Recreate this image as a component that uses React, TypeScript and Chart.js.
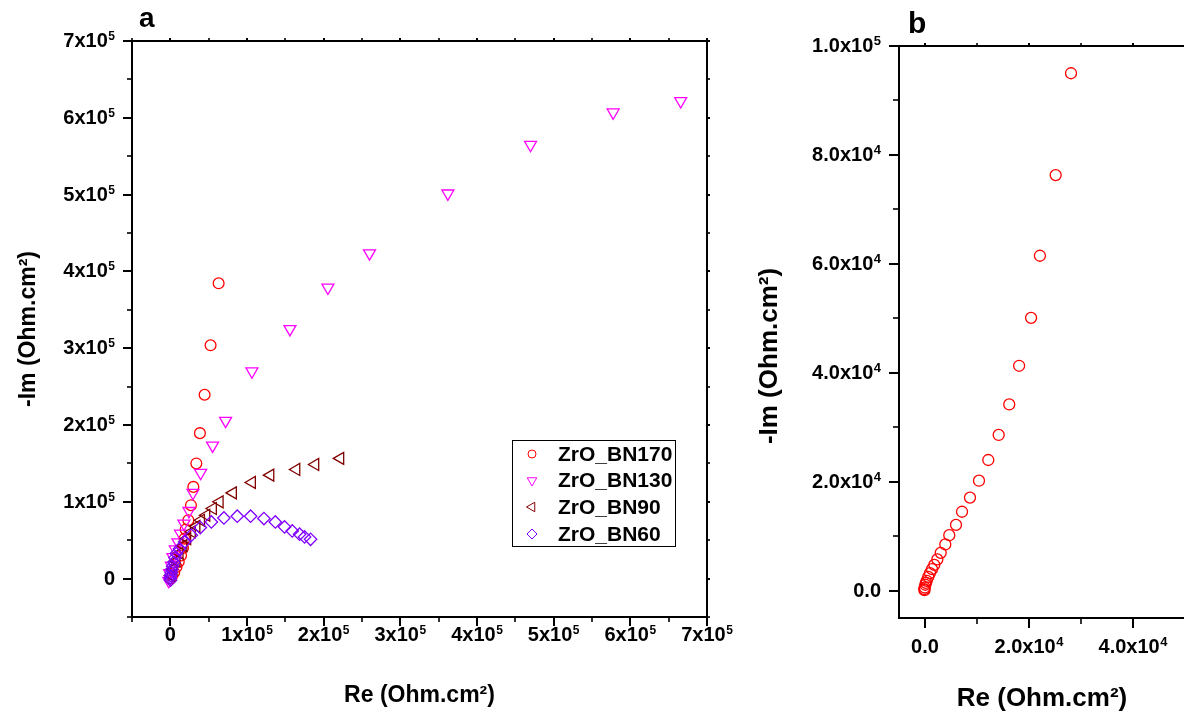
import React, { useEffect, useRef } from 'react';
import { Chart, registerables } from 'chart.js';
import { drawPoint } from 'chart.js/helpers';

Chart.register(...registerables);

const FONT = '"Liberation Sans", Arial, Helvetica, sans-serif';

// ---------- Panel a data (Ohm.cm²) ----------
const LABELS = ['ZrO_BN170', 'ZrO_BN130', 'ZrO_BN90', 'ZrO_BN60'];
const COLORS = ['#ff0000', '#ff00ff', '#800000', '#8000ff'];

const BN170_RE = [0, 2000, 5000, 8000, 11000, 14000, 16500, 18600, 20000, 23500, 26900, 30000, 33900, 38600, 44700, 52500, 63000];
const BN170_IM = [0, 3000, 8000, 15000, 22000, 30000, 40000, 52000, 64000, 76000, 95600, 119400, 149900, 189400, 239400, 303800, 384500];

const BN130_RE = [-2000, -1000, 1300, 3400, 6500, 9900, 13400, 17700, 24300, 29500, 39500, 55100, 72100, 106400, 156000, 205500, 259800, 362000, 469800, 577600, 665700];
const BN130_IM = [-3000, 7000, 17000, 28000, 38000, 47300, 58500, 71600, 88100, 111600, 137700, 173300, 205500, 269800, 325000, 378900, 423600, 501500, 564800, 607000, 621800];

const BN90_RE = [1000, 4000, 8000, 12000, 17000, 22000, 28000, 34000, 40000, 46900, 55500, 64300, 81600, 106400, 130400, 164300, 189000, 221600];
const BN90_IM = [4000, 13000, 23000, 33000, 43000, 52000, 61000, 68000, 76000, 82500, 91300, 100000, 111600, 125200, 134700, 142100, 148600, 156500];

const BN60_RE = [300, 0, 400, 1000, 1800, 3000, 4500, 6000, 7800, 12000, 18600, 27400, 39100, 53500, 69900, 87300, 104700, 122100, 136900, 149000, 159000, 168600, 175100, 182900];
const BN60_IM = [-2000, 1000, 4000, 7500, 11500, 16000, 21000, 27000, 32600, 39000, 47700, 56500, 66500, 73800, 79000, 81200, 81200, 78200, 73800, 67300, 62100, 57800, 54300, 51200];

// ---------- Panel b data (Ohm.cm²) ----------
const B_RE = [-130, -100, -50, 60, 180, 330, 630, 960, 1350, 1790, 2370, 3020, 3900, 4670, 5960, 7120, 8650, 10380, 12170, 14170, 16200, 18100, 20400, 22100, 25130, 28080];
const B_IM = [310, 100, 600, 1100, 1450, 1830, 2560, 3240, 3970, 4760, 5750, 6960, 8500, 10200, 12100, 14500, 17100, 20200, 24000, 28600, 34200, 41300, 50100, 61500, 76300, 95000];

// ---------- Ticks (labels: text before "^" is normal, after it is a superscript) ----------
const A_TICKS = [0, 100000, 200000, 300000, 400000, 500000, 600000, 700000];
const A_TICK_LABELS = ['0', '1x10^5', '2x10^5', '3x10^5', '4x10^5', '5x10^5', '6x10^5', '7x10^5'];
const A_MINOR = [-50000, 50000, 150000, 250000, 350000, 450000, 550000, 650000];

const B_X_TICKS = [0, 20000, 40000];
const B_X_LABELS = ['0.0', '2.0x10^4', '4.0x10^4'];
const B_X_MINOR = [10000, 30000, 50000];
const B_Y_TICKS = [0, 20000, 40000, 60000, 80000, 100000];
const B_Y_LABELS = ['0.0', '2.0x10^4', '4.0x10^4', '6.0x10^4', '8.0x10^4', '1.0x10^5'];
const B_Y_MINOR = [10000, 30000, 50000, 70000, 90000];

const X_TITLE = 'Re (Ohm.cm²)';
const Y_TITLE = '-Im (Ohm.cm²)';

function pts(re: number[], im: number[]) {
  return re.map((v, i) => ({ x: v, y: im[i] }));
}

function ds(label: string, re: number[], im: number[], color: string, style: string, rotation: number, radius: number, order: number) {
  return {
    label,
    data: pts(re, im),
    showLine: false,
    pointStyle: style,
    pointRotation: rotation,
    pointRadius: radius,
    pointHoverRadius: radius,
    pointBorderWidth: 1.3,
    borderColor: color,
    pointBorderColor: color,
    backgroundColor: 'rgba(0,0,0,0)',
    pointBackgroundColor: 'rgba(0,0,0,0)',
    order,
  };
}

type LabelCfg = {
  size: number; supSize: number; supRise: number;
  xBaseline: number; yRight: number; yShift: number;
};

type PanelCfg = {
  id: string;
  xMajor: number[]; xLabels: string[]; xMinor: number[];
  yMajor: number[]; yLabels: string[]; yMinor: number[];
  majorLen: number; minorLen: number;
  lab: LabelCfg;
  letter: string; letterX: number; letterY: number; letterSize: number;
  legend?: boolean;
  yTitle?: { text: string; x: number; y: number; size: number };
};

function drawSupLabel(ctx: CanvasRenderingContext2D, text: string, anchorX: number, baseline: number, align: 'center' | 'right', lab: LabelCfg) {
  const [main, sup] = text.split('^');
  const mainFont = `bold ${lab.size}px ${FONT}`;
  const supFont = `bold ${lab.supSize}px ${FONT}`;
  ctx.font = mainFont;
  const w1 = ctx.measureText(main).width;
  let w2 = 0;
  if (sup) {
    ctx.font = supFont;
    w2 = ctx.measureText(sup).width + 0.5;
  }
  const total = w1 + w2;
  const start = align === 'center' ? anchorX - total / 2 : anchorX - total;
  ctx.textAlign = 'left';
  ctx.textBaseline = 'alphabetic';
  ctx.font = mainFont;
  ctx.fillText(main, start, baseline);
  if (sup) {
    ctx.font = supFont;
    ctx.fillText(sup, start + w1 + 0.5, baseline - lab.supRise);
  }
}

function makePanelPlugin(cfg: PanelCfg) {
  return {
    id: cfg.id,
    afterDatasetsDraw(chart: any) {
      const { ctx, chartArea: ca } = chart;
      const sx = chart.scales.x;
      const sy = chart.scales.y;
      ctx.save();
      ctx.strokeStyle = '#000';
      ctx.lineWidth = 2;
      ctx.strokeRect(ca.left, ca.top, ca.right - ca.left, ca.bottom - ca.top);
      const line = (x1: number, y1: number, x2: number, y2: number) => {
        ctx.beginPath();
        ctx.moveTo(x1, y1);
        ctx.lineTo(x2, y2);
        ctx.stroke();
      };
      const xt = (vals: number[], len: number) => vals.forEach((v) => {
        const p = Math.round(sx.getPixelForValue(v));
        line(p, ca.bottom, p, ca.bottom + len);
        line(p, ca.top, p, ca.top - 3);
      });
      const yt = (vals: number[], len: number) => vals.forEach((v) => {
        const p = Math.round(sy.getPixelForValue(v));
        line(ca.left, p, ca.left - len, p);
        line(ca.right, p, ca.right + 3, p);
      });
      ctx.lineWidth = 2;
      xt(cfg.xMajor, cfg.majorLen);
      yt(cfg.yMajor, cfg.majorLen);
      ctx.lineWidth = 1.6;
      xt(cfg.xMinor, cfg.minorLen);
      yt(cfg.yMinor, cfg.minorLen);

      // tick labels, positioned by the chart's own scales
      ctx.fillStyle = '#000';
      cfg.xMajor.forEach((v, i) => {
        drawSupLabel(ctx, cfg.xLabels[i], sx.getPixelForValue(v), cfg.lab.xBaseline, 'center', cfg.lab);
      });
      cfg.yMajor.forEach((v, i) => {
        drawSupLabel(ctx, cfg.yLabels[i], cfg.lab.yRight, sy.getPixelForValue(v) + cfg.lab.yShift, 'right', cfg.lab);
      });

      ctx.font = `bold ${cfg.letterSize}px ${FONT}`;
      ctx.textAlign = 'left';
      ctx.textBaseline = 'alphabetic';
      ctx.fillText(cfg.letter, cfg.letterX, cfg.letterY);

      if (cfg.yTitle) {
        ctx.save();
        ctx.translate(cfg.yTitle.x, cfg.yTitle.y);
        ctx.rotate(-Math.PI / 2);
        ctx.font = `bold ${cfg.yTitle.size}px ${FONT}`;
        ctx.textAlign = 'center';
        ctx.textBaseline = 'middle';
        ctx.fillText(cfg.yTitle.text, 0, 0);
        ctx.restore();
      }

      if (cfg.legend) {
        ctx.lineWidth = 1;
        ctx.strokeStyle = '#000';
        ctx.strokeRect(512.5, 440.5, 163, 106);
        const rows = [454, 480.5, 507, 534];
        const radii = [4, 5.5, 5.5, 5];
        chart.data.datasets.forEach((d: any, i: number) => {
          ctx.strokeStyle = d.pointBorderColor;
          ctx.fillStyle = 'rgba(0,0,0,0)';
          drawPoint(ctx, { pointStyle: d.pointStyle, rotation: d.pointRotation, radius: radii[i], borderWidth: 1.2 } as any, 532, rows[i]);
          ctx.fillStyle = '#000';
          ctx.font = `bold 21px ${FONT}`;
          ctx.textAlign = 'left';
          ctx.textBaseline = 'middle';
          ctx.fillText(d.label, 558, rows[i] + 1);
        });
      }
      ctx.restore();
    },
  };
}

const hiddenTicks = { display: false };

function configA(): any {
  return {
    type: 'scatter',
    data: {
      datasets: [
        ds(LABELS[0], BN170_RE, BN170_IM, COLORS[0], 'circle', 0, 5.4, 4),
        ds(LABELS[1], BN130_RE, BN130_IM, COLORS[1], 'triangle', 180, 6.9, 3),
        ds(LABELS[2], BN90_RE, BN90_IM, COLORS[2], 'triangle', -90, 6.9, 2),
        ds(LABELS[3], BN60_RE, BN60_IM, COLORS[3], 'rectRot', 0, 6.2, 1),
      ],
    },
    options: {
      animation: false,
      responsive: false,
      devicePixelRatio: 1,
      layout: { padding: { left: 0, top: 41, right: 53, bottom: 0 } },
      plugins: { legend: { display: false }, tooltip: { enabled: false }, title: { display: false } },
      scales: {
        x: {
          type: 'linear', min: -50000, max: 700000,
          afterBuildTicks: (s: any) => { s.ticks = A_TICKS.map((v) => ({ value: v })); },
          afterFit: (s: any) => { s.height = 100; },
          grid: { display: false, drawTicks: false },
          border: { display: false },
          ticks: hiddenTicks,
          title: { display: true, text: X_TITLE, color: '#000', font: { family: FONT, size: 23, weight: 'bold' }, padding: { top: 0, bottom: 8 } },
        },
        y: {
          type: 'linear', min: -50000, max: 700000,
          afterBuildTicks: (s: any) => { s.ticks = A_TICKS.map((v) => ({ value: v })); },
          afterFit: (s: any) => { s.width = 132; },
          grid: { display: false, drawTicks: false },
          border: { display: false },
          ticks: hiddenTicks,
          title: { display: true, text: Y_TITLE, color: '#000', font: { family: FONT, size: 23, weight: 'bold' }, padding: { top: 15, bottom: 0 } },
        },
      },
    },
    plugins: [makePanelPlugin({
      id: 'panelA',
      xMajor: A_TICKS, xLabels: A_TICK_LABELS, xMinor: A_MINOR,
      yMajor: A_TICKS, yLabels: A_TICK_LABELS, yMinor: A_MINOR,
      majorLen: 9, minorLen: 5,
      lab: { size: 20, supSize: 12, supRise: 7, xBaseline: 641, yRight: 115, yShift: 6 },
      letter: 'a', letterX: 139, letterY: 27, letterSize: 28, legend: true,
    })],
  };
}

function configB(): any {
  return {
    type: 'scatter',
    data: {
      datasets: [ds(LABELS[0], B_RE, B_IM, COLORS[0], 'circle', 0, 5.5, 1)],
    },
    options: {
      animation: false,
      responsive: false,
      devicePixelRatio: 1,
      layout: { padding: { left: 0, top: 46, right: 15, bottom: 0 } },
      plugins: { legend: { display: false }, tooltip: { enabled: false }, title: { display: false } },
      scales: {
        x: {
          type: 'linear', min: -5000, max: 50000,
          afterBuildTicks: (s: any) => { s.ticks = B_X_TICKS.map((v) => ({ value: v })); },
          afterFit: (s: any) => { s.height = 99; },
          grid: { display: false, drawTicks: false },
          border: { display: false },
          ticks: hiddenTicks,
          title: { display: true, text: X_TITLE, color: '#000', font: { family: FONT, size: 26, weight: 'bold' }, padding: { top: 0, bottom: 3 } },
        },
        y: {
          type: 'linear', min: -5000, max: 100000,
          afterBuildTicks: (s: any) => { s.ticks = B_Y_TICKS.map((v) => ({ value: v })); },
          afterFit: (s: any) => { s.width = 159; },
          grid: { display: false, drawTicks: false },
          border: { display: false },
          ticks: hiddenTicks,
          title: { display: false },
        },
      },
    },
    plugins: [makePanelPlugin({
      id: 'panelB',
      xMajor: B_X_TICKS, xLabels: B_X_LABELS, xMinor: B_X_MINOR,
      yMajor: B_Y_TICKS, yLabels: B_Y_LABELS, yMinor: B_Y_MINOR,
      majorLen: 10, minorLen: 6,
      lab: { size: 20, supSize: 13, supRise: 7, xBaseline: 653, yRight: 141, yShift: 6.4 },
      letter: 'b', letterX: 168, letterY: 33, letterSize: 30,
      yTitle: { text: Y_TITLE, x: 30, y: 356, size: 26 },
    })],
  };
}

function ChartCanvas({ build, left, width, height }: { build: () => any; left: number; width: number; height: number }) {
  const ref = useRef<HTMLCanvasElement>(null);
  useEffect(() => {
    const chart = new Chart(ref.current as HTMLCanvasElement, build());
    return () => chart.destroy();
  }, [build]);
  return (
    <canvas
      ref={ref}
      width={width}
      height={height}
      style={{ position: 'absolute', left, top: 0, width, height }}
    />
  );
}

export default function App() {
  return (
    <div style={{ position: 'fixed', left: 0, top: 0, width: 1184, height: 717, overflow: 'hidden', background: '#fff' }}>
      <ChartCanvas build={configA} left={0} width={760} height={717} />
      <ChartCanvas build={configB} left={740} width={460} height={717} />
    </div>
  );
}
